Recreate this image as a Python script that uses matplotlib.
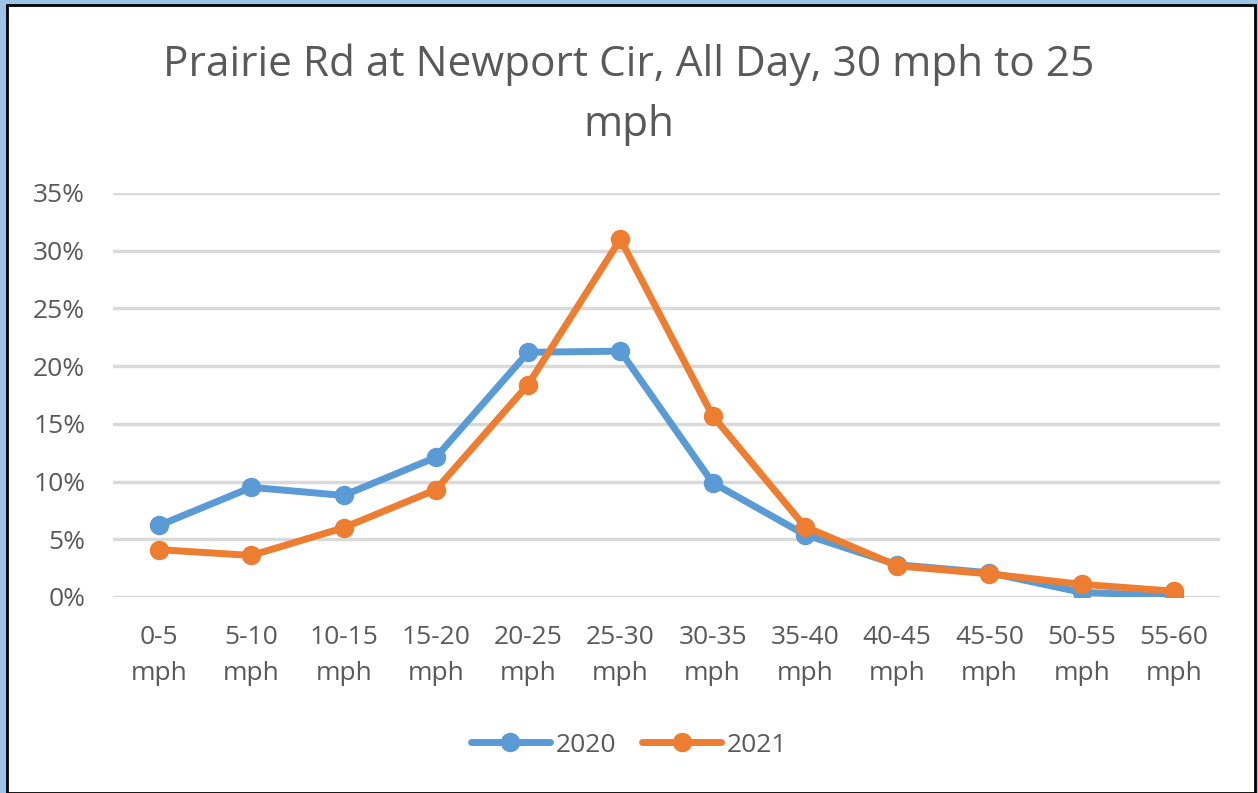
import matplotlib
matplotlib.use("Agg")
import matplotlib.pyplot as plt
from matplotlib.patches import Rectangle
from matplotlib.ticker import PercentFormatter

plt.rcParams['font.family'] = ['Open Sans', 'DejaVu Sans']

# data
bins = ['0-5\nmph', '5-10\nmph', '10-15\nmph', '15-20\nmph', '20-25\nmph', '25-30\nmph',
        '30-35\nmph', '35-40\nmph', '40-45\nmph', '45-50\nmph', '50-55\nmph', '55-60\nmph']
pct_2020 = [6.2, 9.5, 8.8, 12.1, 21.2, 21.3, 9.9, 5.4, 2.8, 2.1, 0.4, 0.1]
pct_2021 = [4.1, 3.6, 6.0, 9.3, 18.4, 31.0, 15.7, 6.1, 2.7, 2.0, 1.1, 0.5]
yticks = [0, 5, 10, 15, 20, 25, 30, 35]
title = 'Prairie Rd at Newport Cir, All Day, 30 mph to 25\nmph'

txt = '#595959'
blue = '#5B9BD5'
orange = '#ED7D31'

fig = plt.figure(figsize=(12.58, 7.93), dpi=100)

# outer frame: light blue margin + thin black line
fig.patches.append(Rectangle((0, 0), 1, 1, transform=fig.transFigure,
                             facecolor='#9DC3E6', edgecolor='none', zorder=-10))
fig.patches.append(Rectangle((7 / 1258, 0), 1 - 10 / 1258, 1 - 5 / 793,
                             transform=fig.transFigure, facecolor='white',
                             edgecolor='black', linewidth=2, zorder=-9))

ax = fig.add_axes([113 / 1258, 1 - 597 / 793, (1220 - 113) / 1258, (597 - 193) / 793])
x = list(range(len(bins)))
ax.plot(x, pct_2020, color=blue, lw=5, marker='o', ms=13, label='2020', zorder=3,
        solid_capstyle='round')
ax.plot(x, pct_2021, color=orange, lw=5, marker='o', ms=13, label='2021', zorder=4,
        solid_capstyle='round')

ax.set_xlim(-0.5, len(bins) - 0.5)
ax.set_ylim(0, 35)
ax.set_yticks(yticks)
ax.yaxis.set_major_formatter(PercentFormatter(decimals=0))
ax.set_xticks(x)
ax.set_xticklabels(bins, linespacing=1.6)
ax.grid(axis='y', color='#D9D9D9', lw=2.5)
ax.set_axisbelow(True)
for s in ax.spines.values():
    s.set_visible(False)
ax.tick_params(length=0, labelsize=19, labelcolor=txt)
ax.tick_params(axis='x', pad=20)
ax.tick_params(axis='y', pad=20)

fig.text(0.5, 1 - 95 / 793, title, ha='center', va='center', fontsize=30.5,
         color=txt, linespacing=1.55)

leg = fig.legend(loc='center', bbox_to_anchor=(0.5, 1 - 745 / 793), ncol=2,
                 frameon=False, fontsize=19, handlelength=3.0, columnspacing=1.0,
                 handletextpad=0.2)
for t in leg.get_texts():
    t.set_color(txt)

fig.savefig('out.png', dpi=100)
